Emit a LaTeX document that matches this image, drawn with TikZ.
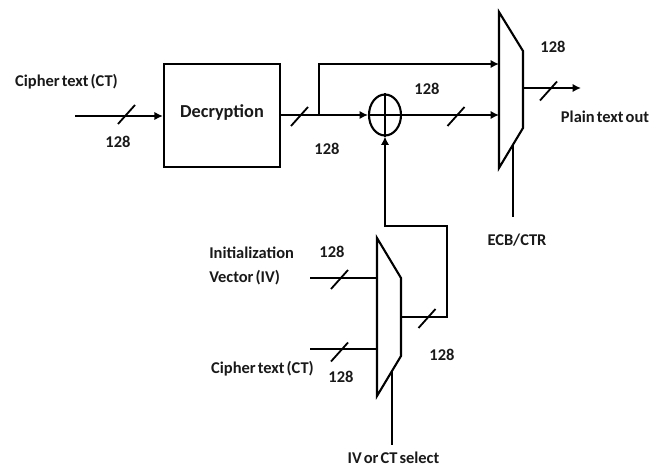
\documentclass[tikz,border=0pt]{standalone}
\usepackage{fontspec}
\setmainfont[WordSpace=0.55]{Carlito}
\usepackage{tikz}
\usetikzlibrary{shapes}
\usetikzlibrary{arrows.meta,arrows}
\usetikzlibrary{fit,positioning}
\tikzset{>={Latex[length=6pt,width=6pt]}}
\tikzset{
  wire/.style={line width=1.5pt},
  label/.style={font=\bfseries\fontsize{11.7}{14}\selectfont, inner sep=0pt, text=black!90},
  blockbox/.style={draw, line width=1.6pt, minimum width=116*0.025cm, minimum height=103*0.025cm, inner sep=0pt}
}
\begin{document}
\begin{tikzpicture}[x=0.025cm,y=-0.025cm]
\useasboundingbox (0,0) rectangle (665,466);

% Blocks
\node[blockbox] (decrypt) at (222,115.5) {};
\node[label,font=\bfseries\fontsize{13}{15}\selectfont] (decryptlabel) at (222,113) {Decryption};
\node[draw, wire, ellipse, minimum width=32*0.025cm, minimum height=41*0.025cm, inner sep=0pt] (xorgate) at (385,115) {};
\draw[wire] (xorgate.north) -- (xorgate.south);
\draw[wire] (xorgate.west) -- (xorgate.east);

% Output mux
\coordinate (muxa1) at (499,12);
\coordinate (muxa2) at (523,51);
\coordinate (muxa3) at (523,128);
\coordinate (muxa4) at (499,168);
\draw[wire] (muxa1)--(muxa2)--(muxa3)--(muxa4)--cycle;

% Select mux
\coordinate (muxb1) at (377,238);
\coordinate (muxb2) at (401,278);
\coordinate (muxb3) at (401,356);
\coordinate (muxb4) at (377,396);
\draw[wire] (muxb1)--(muxb2)--(muxb3)--(muxb4)--cycle;

% Ports
\coordinate (ctin) at (75,116);
\coordinate (branch) at (319,115);
\coordinate (branchup) at (319,64);
\coordinate (muxatop) at (499,64);
\coordinate (muxamid) at (499,115);
\coordinate (muxaout) at (523,88);
\coordinate (plainout) at (581,88);
\coordinate (muxasel) at (513,145);
\coordinate (ecbend) at (513,217);
\coordinate (fbturn) at (385,226);
\coordinate (fbcorner) at (447,226);
\coordinate (fblow) at (447,317);
\coordinate (muxbout) at (401,317);
\coordinate (ivin) at (310,278);
\coordinate (muxbtop) at (377,278);
\coordinate (ctinb) at (310,349);
\coordinate (muxblow) at (377,349);
\coordinate (muxbsel) at (392,372);
\coordinate (selend) at (392,445);

% Wires
\draw[wire,->] (ctin) -- (decrypt.west |- ctin);
\draw[wire,->] (decrypt.east |- xorgate) -- (xorgate.west);
\draw[wire,->] (branch) -- (branchup) -- (muxatop);
\draw[wire,->] (xorgate.east) -- (muxamid);
\draw[wire,->] (muxaout) -- (plainout);
\draw[wire] (muxasel) -- (ecbend);
\draw[wire,->] (muxbout) -- (fblow) -- (fbcorner) -- (fbturn) -- (xorgate.south);
\draw[wire] (ivin) -- (muxbtop);
\draw[wire] (ctinb) -- (muxblow);
\draw[wire] (muxbsel) -- (selend);

% Bus marks
\foreach \x/\y in {126.5/114.5,299.5/116.5,456/116.5,548.5/91,339.5/279.5,339.5/352,427/318.5}
  \draw[line width=1.3pt] (\x,\y) ++(-8.5,9.5) -- ++(17,-19);

% Labels
\node[label] (cta) at (66.5,82) {Cipher text (CT)};
\node[label] (wa) at (118,142) {128};
\node[label] (wb) at (327,149) {128};
\node[label] (wc) at (427,89) {128};
\node[label] (wd) at (553,47) {128};
\node[label] (plain) at (605,116.5) {Plain text out};
\node[label] (ecb) at (517,240) {ECB/CTR};
\node[label,anchor=west] (init) at (209,253) {Initialization};
\node[label,anchor=west] (vec) at (209,278) {Vector (IV)};
\node[label] (we) at (332,252) {128};
\node[label] (ctb) at (262.5,369) {Cipher text (CT)};
\node[label] (wf) at (341,377) {128};
\node[label] (wg) at (442,355) {128};
\node[label] (sel) at (393.5,458) {IV or CT select};

\end{tikzpicture}
\end{document}
